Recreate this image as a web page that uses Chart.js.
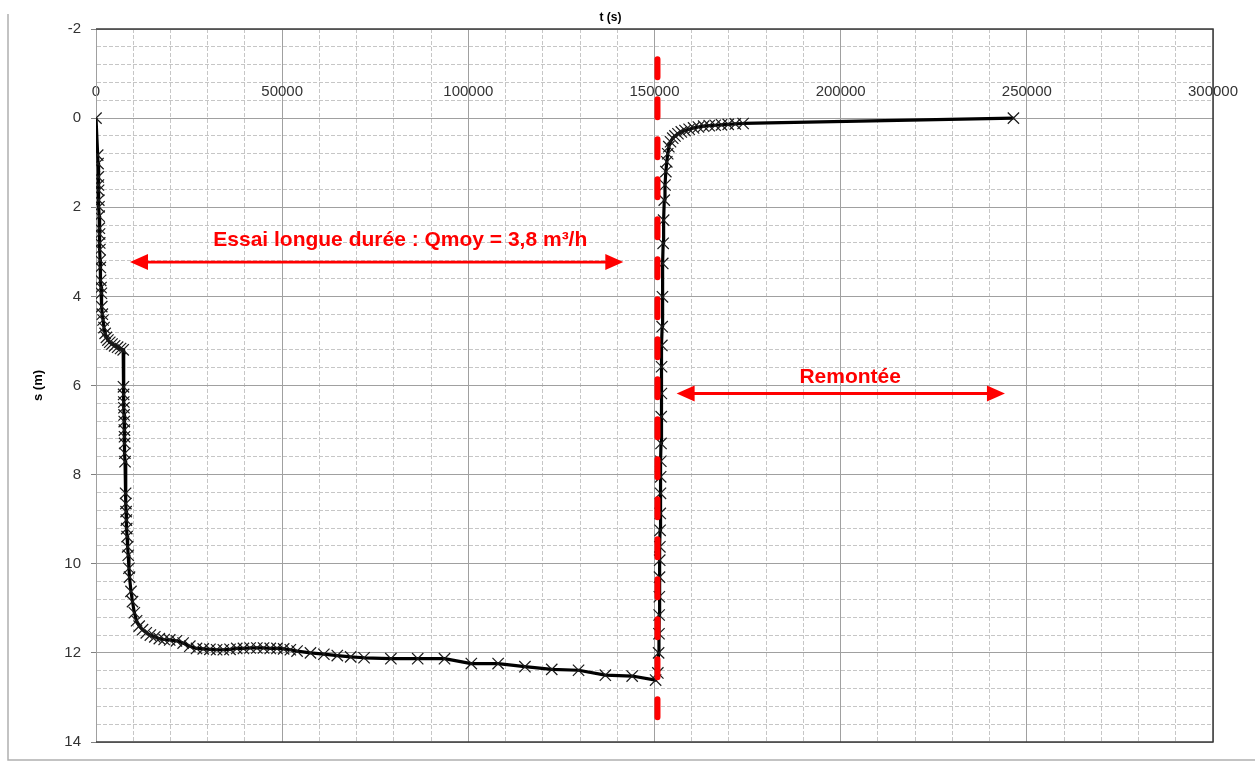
<!DOCTYPE html>
<html>
<head>
<meta charset="utf-8">
<script src="https://cdn.jsdelivr.net/npm/chart.js@4.4.1/dist/chart.umd.min.js"></script>
<style>
  html, body { margin: 0; padding: 0; background: #fff; }
  #wrap { width: 1255px; height: 765px; position: relative; }
</style>
</head>
<body>
<div id="wrap"><canvas id="chart"></canvas></div>
<script>
// time (s) and drawdown s (m), pumping then recovery
const tSec = [
  0, 450, 550, 600, 650, 700, 750, 800, 850, 900, 950, 1000, 1050, 1100, 1150,
  1250, 1350, 1450, 1550, 1700, 1900, 2150, 2450, 2800, 3200, 3700, 4300, 5000,
  5800, 6600, 7300,
  7380, 7420, 7460, 7500, 7540, 7580, 7620, 7660, 7700, 7750, 7800, 7950, 8020,
  8080, 8150, 8250, 8350, 8500, 8650, 8850, 9000, 9400, 9800, 10300, 10900,
  11600, 12500, 13500, 14600, 15800, 17000, 18300, 19800, 21600, 23400, 25200,
  27000, 28800, 30600, 32400, 34200, 36000, 37800, 39600, 41400, 43200, 45000,
  46800, 48600, 50400, 52200, 54000, 57600, 61200, 64800, 68400, 72000, 79200,
  86400, 93600, 100800, 108000, 115200, 122400, 129600, 136800, 144000, 150300,
  150900, 151100, 151200, 151250, 151300, 151350, 151400, 151450, 151500, 151550,
  151600, 151650, 151700, 151750, 151800, 151850, 151900, 151980, 152060, 152140,
  152220, 152320, 152450, 152620, 152820, 153050, 153300, 153550, 153850, 154300,
  154900, 155500, 156300, 157200, 158200, 159300, 160500, 161800, 163200, 164700,
  166300, 168000, 169800, 171700, 173800, 246400
];
const sMetres = [
  0, 0.83, 1.02, 1.32, 1.5, 1.62, 1.84, 1.99, 2.2, 2.47, 2.6, 2.8, 2.95, 3.19, 3.35,
  3.64, 3.8, 3.93, 4.23, 4.4, 4.53, 4.7, 4.83, 4.92, 4.98, 5.03, 5.07, 5.11,
  5.14, 5.17, 5.2,
  6.03, 6.2, 6.37, 6.5, 6.66, 6.81, 7.0, 7.15, 7.3, 7.52, 7.71, 8.42, 8.65,
  8.83, 9.02, 9.21, 9.39, 9.62, 9.81, 10.1, 10.3, 10.62, 10.85, 11.1, 11.28,
  11.4, 11.48, 11.55, 11.6, 11.64, 11.68, 11.7, 11.71, 11.73, 11.78, 11.85,
  11.9, 11.91, 11.92, 11.93, 11.93, 11.92, 11.9, 11.9, 11.89, 11.89, 11.89,
  11.9, 11.9, 11.91, 11.93, 11.96, 12.0, 12.03, 12.06, 12.09, 12.11, 12.13,
  12.13, 12.13, 12.24, 12.24, 12.31, 12.37, 12.39, 12.5, 12.52, 12.61,
  12.45, 12.0, 11.57, 11.15, 10.74, 10.3, 9.92, 9.62, 9.25, 8.87,
  8.42, 8.05, 7.7, 7.3, 6.7, 6.18, 5.58, 5.1, 4.68, 4.01,
  3.26, 2.81, 2.29, 1.84, 1.5, 1.2, 0.98, 0.8, 0.64, 0.53,
  0.45, 0.4, 0.35, 0.31, 0.28, 0.25, 0.22, 0.2, 0.18, 0.17,
  0.16, 0.15, 0.14, 0.13, 0.12, 0.0
];

// end of pumping (red dashed marker)
const stopTime = 150800;
const stopSpan = [-1.32, 13.5];

// annotations (data coordinates)
const arrowFrom = [9130, 155950];
const arrowTo = [141620, 244120];
const arrowLevel = [3.23, 6.18];
const noteText = ['Essai longue durée : Qmoy = 3,8 m³/h', 'Remontée'];
const noteTime = [81720, 202550];
const noteLevel = [2.87, 5.94];

const FONT = "'Liberation Sans', Arial, sans-serif";
const RED = '#ff0000';

function isMajor(v, step) {
  const q = v / step;
  return Math.abs(q - Math.round(q)) < 1e-6;
}

// Excel-like frame + arrows and labels
const decor = {
  id: 'decor',
  beforeDraw(chart) {
    const c = chart.ctx;
    c.save();
    c.fillStyle = '#fff';
    c.fillRect(0, 0, chart.width, chart.height);
    c.strokeStyle = '#b0b0b0';
    c.lineWidth = 1.5;
    c.beginPath();
    c.moveTo(8, 14);
    c.lineTo(8, 760);
    c.lineTo(chart.width, 760);
    c.stroke();
    c.restore();
  },
  afterDatasetsDraw(chart) {
    const c = chart.ctx;
    const xs = chart.scales.x, ys = chart.scales.y;
    c.save();
    c.fillStyle = RED;
    c.strokeStyle = RED;
    c.lineWidth = 2.8;
    const head = 18, half = 8;
    arrowFrom.forEach((t0, i) => {
      const x1 = xs.getPixelForValue(t0);
      const x2 = xs.getPixelForValue(arrowTo[i]);
      const y = ys.getPixelForValue(arrowLevel[i]);
      c.beginPath();
      c.moveTo(x1 + head - 2, y);
      c.lineTo(x2 - head + 2, y);
      c.stroke();
      c.beginPath();
      c.moveTo(x1, y);
      c.lineTo(x1 + head, y - half);
      c.lineTo(x1 + head, y + half);
      c.closePath();
      c.fill();
      c.beginPath();
      c.moveTo(x2, y);
      c.lineTo(x2 - head, y - half);
      c.lineTo(x2 - head, y + half);
      c.closePath();
      c.fill();
    });
    c.font = 'bold 21px ' + FONT;
    c.textAlign = 'center';
    c.textBaseline = 'alphabetic';
    noteText.forEach((txt, i) => {
      c.fillText(txt, xs.getPixelForValue(noteTime[i]), ys.getPixelForValue(noteLevel[i]));
    });
    c.restore();
  },
  afterDraw(chart) {
    const a = chart.chartArea;
    const c = chart.ctx;
    c.save();
    c.strokeStyle = '#3a3a3a';
    c.lineWidth = 1.5;
    c.beginPath();
    c.moveTo(a.left, a.top);
    c.lineTo(a.right, a.top);
    c.lineTo(a.right, a.bottom);
    c.lineTo(a.left, a.bottom);
    c.stroke();
    c.restore();
  }
};

const ctx = document.getElementById('chart').getContext('2d');
new Chart(ctx, {
  type: 'line',
  data: {
    datasets: [
      {
        label: 'fin pompage',
        data: stopSpan.map(s => ({ x: stopTime, y: s })),
        borderColor: RED,
        borderWidth: 6,
        borderDash: [18, 22],
        borderCapStyle: 'round',
        pointRadius: 0,
        order: 0
      },
      {
        label: 's (m)',
        data: tSec.map((t, i) => ({ x: t, y: sMetres[i] })),
        borderColor: '#000',
        borderWidth: 3.2,
        borderJoinStyle: 'round',
        tension: 0,
        pointStyle: 'crossRot',
        pointRadius: 8,
        pointBorderWidth: 1.2,
        pointBorderColor: '#1a1a1a',
        pointBackgroundColor: 'transparent',
        order: 1
      }
    ]
  },
  options: {
    responsive: true,
    maintainAspectRatio: false,
    animation: false,
    events: [],
    layout: { padding: { left: 8, right: 42, top: 0, bottom: 23 } },
    plugins: {
      legend: { display: false },
      tooltip: { enabled: false },
      title: {
        display: true,
        text: 't (s)',
        color: '#000',
        font: { family: FONT, size: 12, weight: 'bold' },
        padding: { top: 10, bottom: 4.6 }
      }
    },
    scales: {
      x: {
        type: 'linear',
        position: { y: -1 },
        min: 0,
        max: 300000,
        border: { display: false, dash: c => (c.tick && !isMajor(c.tick.value, 50000)) ? [4, 2] : [] },
        grid: {
          drawTicks: false,
          lineWidth: 1,
          color: c => isMajor(c.tick.value, 50000) ? '#a0a0a0' : '#c6c6c6'
        },
        ticks: {
          stepSize: 10000,
          autoSkip: false,
          maxRotation: 0,
          padding: 9,
          color: '#333',
          font: { family: FONT, size: 15 },
          callback: v => isMajor(v, 50000) ? String(v) : ''
        }
      },
      y: {
        type: 'linear',
        reverse: true,
        min: -2,
        max: 14,
        afterFit: scale => { scale.width = 88; },
        title: {
          display: true,
          text: 's (m)',
          color: '#000',
          font: { family: FONT, size: 13, weight: 'bold' },
          padding: { top: 23, bottom: 0 }
        },
        border: { display: true, color: '#a0a0a0', width: 1, dash: c => (c.tick && !isMajor(c.tick.value, 2)) ? [4, 2] : [] },
        grid: {
          lineWidth: 1,
          tickLength: 5,
          color: c => isMajor(c.tick.value, 2) ? '#a0a0a0' : '#c6c6c6',
          tickColor: c => isMajor(c.tick.value, 2) ? '#808080' : 'rgba(0,0,0,0)'
        },
        ticks: {
          stepSize: 0.4,
          maxTicksLimit: 100,
          autoSkip: false,
          padding: 10,
          color: '#333',
          font: { family: FONT, size: 15 },
          callback: v => isMajor(v, 2) ? String(Math.round(v)) : ''
        }
      }
    }
  },
  plugins: [decor]
});
</script>
</body>
</html>
